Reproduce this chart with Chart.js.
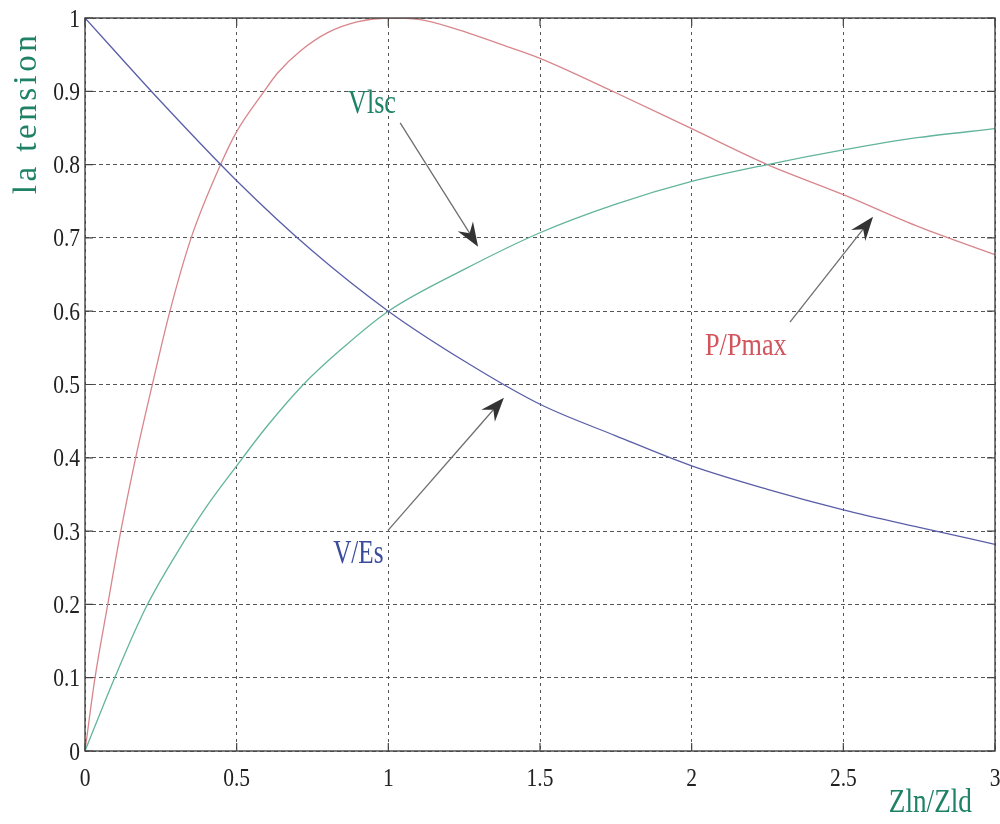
<!DOCTYPE html>
<html>
<head>
<meta charset="utf-8">
<script src="https://cdn.jsdelivr.net/npm/chart.js@4/dist/chart.umd.min.js"></script>
<style>
  html, body { margin: 0; padding: 0; background: #ffffff; }
  #wrap { width: 1000px; height: 824px; }
  .pre { font-family: "Liberation Serif"; position: absolute; left: -1000px; top: -1000px; }
</style>
</head>
<body>
<span class="pre">0.5 Zln/Zld la tension</span>
<div id="wrap"><canvas id="c" width="1000" height="824"></canvas></div>
<script>
// ---- data ----
const xTickValues = [0, 0.5, 1, 1.5, 2, 2.5, 3];
const xTickLabels = ['0', '0.5', '1', '1.5', '2', '2.5', '3'];
const yTickValues = [0, 0.1, 0.2, 0.3, 0.4, 0.5, 0.6, 0.7, 0.8, 0.9, 1];
const yTickLabels = ['0', '0.1', '0.2', '0.3', '0.4', '0.5', '0.6', '0.7', '0.8', '0.9', '1'];

const vesX = [0, 0.25, 0.5, 0.75, 1.0, 1.25, 1.5, 1.75, 2.0, 2.25, 2.5, 2.75, 3.0];
const vesY = [1.0, 0.886, 0.778, 0.682, 0.600, 0.532, 0.473, 0.430, 0.389, 0.357, 0.329, 0.305, 0.282];

const vlscX = [0, 0.1, 0.2, 0.3, 0.4, 0.5, 0.6, 0.72, 0.85, 1.0, 1.25, 1.5, 1.75, 2.0, 2.25, 2.5, 2.75, 3.0];
const vlscY = [0, 0.102, 0.195, 0.268, 0.333, 0.389, 0.443, 0.500, 0.550, 0.600, 0.657, 0.707, 0.746, 0.777, 0.800, 0.820, 0.837, 0.849];

const ppX = [0, 0.033, 0.075, 0.118, 0.167, 0.222, 0.28, 0.35, 0.447, 0.5, 0.582, 0.635, 0.71, 0.8, 0.9, 1.0, 1.1, 1.2, 1.4, 1.5, 1.75, 2.0, 2.25, 2.5, 2.75, 3.0];
const ppY = [0, 0.100, 0.200, 0.300, 0.400, 0.500, 0.600, 0.700, 0.800, 0.845, 0.895, 0.925, 0.955, 0.980, 0.995, 1.000, 0.998, 0.988, 0.960, 0.945, 0.898, 0.849, 0.800, 0.759, 0.715, 0.677];

const seriesNames = ['V/Es', 'Vlsc', 'P/Pmax'];
const xAxisTitle = 'Zln/Zld';
const yAxisTitle = 'la tension';

// ---- annotation anchors (data coordinates) ----
const labelText = ['Vlsc', 'V/Es', 'P/Pmax'];
const labelAt = [[0.867, 0.870], [0.818, 0.256], [2.044, 0.540]];
const arrowFrom = [[1.039, 0.857], [0.999, 0.301], [2.324, 0.585]];
const arrowTo = [[1.296, 0.688], [1.381, 0.482], [2.598, 0.729]];

const toPts = (xs, ys) => xs.map((x, i) => ({ x: x, y: ys[i] }));

const FONT = '"Liberation Serif", serif';
const GREEN_TXT = '#1f8266';
const BLUE_TXT = '#3a4c9c';
const RED_TXT = '#d2545c';

function txt(ctx, s, x, y, size, color, sx, align, baseline) {
  ctx.save();
  ctx.translate(x, y);
  ctx.scale(sx, 1);
  ctx.font = size + 'px ' + FONT;
  ctx.fillStyle = color;
  ctx.textAlign = align;
  ctx.textBaseline = baseline;
  ctx.fillText(s, 0, 0);
  ctx.restore();
}

function arrow(ctx, x0, y0, x1, y1) {
  const ang = Math.atan2(y1 - y0, x1 - x0);
  const L = 24, W = 9, notch = 8;
  const bx = x1 - L * Math.cos(ang), by = y1 - L * Math.sin(ang);
  const nx = x1 - (L - notch) * Math.cos(ang), ny = y1 - (L - notch) * Math.sin(ang);
  ctx.save();
  ctx.strokeStyle = '#6e6e6e';
  ctx.lineWidth = 1.3;
  ctx.beginPath();
  ctx.moveTo(x0, y0);
  ctx.lineTo(nx, ny);
  ctx.stroke();
  ctx.fillStyle = '#333333';
  ctx.beginPath();
  ctx.moveTo(x1, y1);
  ctx.lineTo(bx + W * Math.sin(ang), by - W * Math.cos(ang));
  ctx.lineTo(nx, ny);
  ctx.lineTo(bx - W * Math.sin(ang), by + W * Math.cos(ang));
  ctx.closePath();
  ctx.fill();
  ctx.restore();
}

const decor = {
  id: 'decor',
  afterDraw(chart) {
    const ctx = chart.ctx;
    const xs = chart.scales.x, ys = chart.scales.y;
    const a = chart.chartArea;
    // frame
    ctx.save();
    ctx.strokeStyle = '#444444';
    ctx.lineWidth = 1.4;
    ctx.setLineDash([]);
    ctx.strokeRect(a.left, a.top, a.right - a.left, a.bottom - a.top);
    // inner tick marks
    ctx.lineWidth = 1.2;
    ctx.beginPath();
    xTickValues.forEach(v => {
      const px = xs.getPixelForValue(v);
      ctx.moveTo(px, a.bottom); ctx.lineTo(px, a.bottom - 8);
      ctx.moveTo(px, a.top); ctx.lineTo(px, a.top + 8);
    });
    yTickValues.forEach(v => {
      const py = ys.getPixelForValue(v);
      ctx.moveTo(a.left, py); ctx.lineTo(a.left + 8, py);
      ctx.moveTo(a.right, py); ctx.lineTo(a.right - 8, py);
    });
    ctx.stroke();
    ctx.restore();

    // tick labels
    xTickValues.forEach((v, i) => {
      txt(ctx, xTickLabels[i], xs.getPixelForValue(v), a.bottom + 35, 25, '#222222', 0.86, 'center', 'alphabetic');
    });
    yTickValues.forEach((v, i) => {
      txt(ctx, yTickLabels[i], a.left - 5, ys.getPixelForValue(v) + 8.5, 25, '#222222', 0.86, 'right', 'alphabetic');
    });

    // axis titles
    txt(ctx, xAxisTitle, xs.getPixelForValue(2.65), a.bottom + 61, 34, GREEN_TXT, 0.8, 'left', 'alphabetic');
    ctx.save();
    ctx.translate(36, 113);
    ctx.rotate(-Math.PI / 2);
    ctx.font = '33px ' + FONT;
    ctx.letterSpacing = '3.5px';
    ctx.fillStyle = GREEN_TXT;
    ctx.textAlign = 'center';
    ctx.textBaseline = 'alphabetic';
    ctx.fillText(yAxisTitle, 0, 0);
    ctx.restore();

    // arrows
    for (let i = 0; i < arrowFrom.length; i++) {
      arrow(ctx,
        xs.getPixelForValue(arrowFrom[i][0]), ys.getPixelForValue(arrowFrom[i][1]),
        xs.getPixelForValue(arrowTo[i][0]), ys.getPixelForValue(arrowTo[i][1]));
    }
    // series labels
    const cols = [GREEN_TXT, BLUE_TXT, RED_TXT];
    const sizes = [34, 34, 32];
    const sx = [0.77, 0.74, 0.82];
    for (let i = 0; i < labelText.length; i++) {
      txt(ctx, labelText[i], xs.getPixelForValue(labelAt[i][0]), ys.getPixelForValue(labelAt[i][1]),
        sizes[i], cols[i], sx[i], 'left', 'alphabetic');
    }
  }
};

function build() {
  new Chart(document.getElementById('c'), {
    type: 'line',
    data: {
      datasets: [
        { label: seriesNames[0], data: toPts(vesX, vesY), borderColor: '#5a5ea8', borderWidth: 1.3,
          pointRadius: 0, fill: false, cubicInterpolationMode: 'monotone' },
        { label: seriesNames[1], data: toPts(vlscX, vlscY), borderColor: '#62b49c', borderWidth: 1.3,
          pointRadius: 0, fill: false, cubicInterpolationMode: 'monotone' },
        { label: seriesNames[2], data: toPts(ppX, ppY), borderColor: '#d8868c', borderWidth: 1.3,
          pointRadius: 0, fill: false, cubicInterpolationMode: 'monotone' }
      ]
    },
    options: {
      responsive: false,
      animation: false,
      devicePixelRatio: 1,
      layout: { padding: { top: 18, right: 5, left: 0, bottom: 0 } },
      plugins: { legend: { display: false }, tooltip: { enabled: false } },
      scales: {
        x: {
          type: 'linear', min: 0, max: 3,
          afterBuildTicks: s => { s.ticks = xTickValues.map(v => ({ value: v })); },
          afterFit: s => { s.height = 73; },
          ticks: { display: false },
          grid: { color: '#555555', lineWidth: 1, drawTicks: false },
          border: { display: false, dash: [3, 4] }
        },
        y: {
          type: 'linear', min: 0, max: 1,
          afterBuildTicks: s => { s.ticks = yTickValues.map(v => ({ value: v })); },
          afterFit: s => { s.width = 85; },
          ticks: { display: false },
          grid: { color: '#555555', lineWidth: 1, drawTicks: false },
          border: { display: false, dash: [4, 3] }
        }
      }
    },
    plugins: [decor]
  });
}

if (document.fonts && document.fonts.load) {
  Promise.all([
    document.fonts.load('25px "Liberation Serif"'),
    document.fonts.load('33px "Liberation Serif"')
  ]).then(build, build);
} else {
  build();
}
</script>
</body>
</html>
